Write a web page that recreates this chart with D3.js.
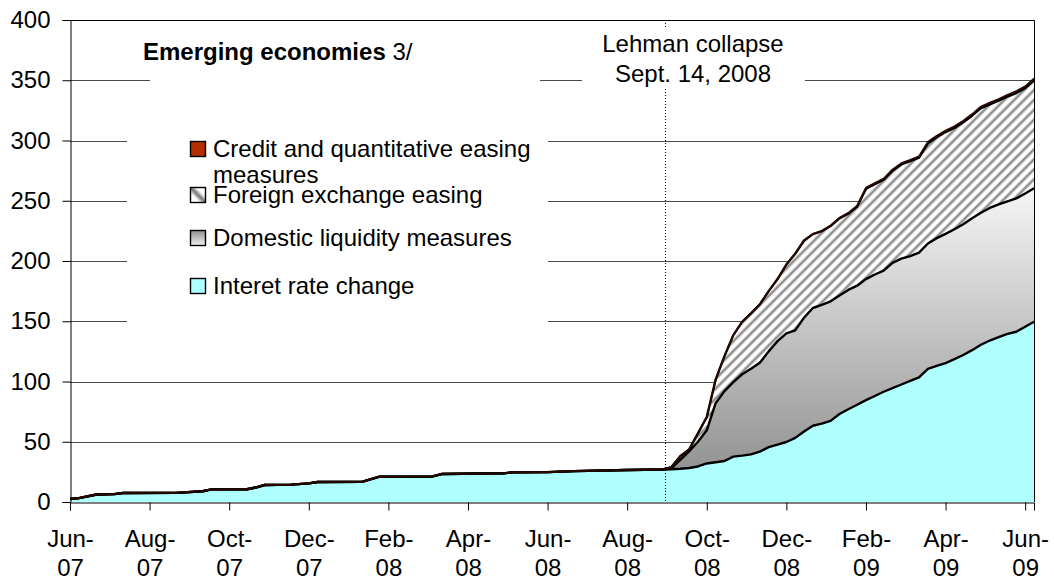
<!DOCTYPE html>
<html>
<head>
<meta charset="utf-8">
<script src="https://cdn.jsdelivr.net/npm/d3@7"></script>
<style>
  body { margin: 0; background: #fff; }
  svg { display: block; font-family: Arial, "Liberation Sans", sans-serif; }
</style>
</head>
<body>
<svg id="chart" width="1054" height="579"></svg>
<script>
// Weekly observations (Fridays); sparse before the crisis where the series is flat.
const dates = [
  "2007-06-01","2007-06-08","2007-06-22","2007-07-06","2007-07-13","2007-08-24","2007-09-14","2007-09-21",
  "2007-10-19","2007-10-26","2007-11-02","2007-11-23","2007-12-07","2007-12-14","2008-01-18","2008-02-01",
  "2008-03-14","2008-03-21","2008-05-09","2008-05-16","2008-06-13","2008-07-04","2008-08-15",
  "2008-09-12","2008-09-19","2008-09-26","2008-10-03","2008-10-10","2008-10-17","2008-10-24","2008-10-31",
  "2008-11-07","2008-11-14","2008-11-21","2008-11-28","2008-12-05","2008-12-12","2008-12-19","2008-12-26",
  "2009-01-02","2009-01-09","2009-01-16","2009-01-23","2009-01-30","2009-02-06","2009-02-13","2009-02-20",
  "2009-02-27","2009-03-06","2009-03-13","2009-03-20","2009-03-27","2009-04-03","2009-04-10","2009-04-17",
  "2009-04-24","2009-05-01","2009-05-08","2009-05-15","2009-05-22","2009-05-29","2009-06-05","2009-06-12",
  "2009-06-19","2009-06-26","2009-07-03"
];

const interestRate = [
  2.5, 3.2, 6.2, 6.5, 7.5, 7.6, 8.9, 10.5, 10.6, 12, 14.1, 14.4, 15.5, 16.6, 16.7, 21,
  21.2, 23.2, 23.8, 24.6, 24.8, 25.6, 26.5,
  27.0, 27.2, 27.6, 28.2, 29.5, 32, 33, 34, 37.7, 38.5, 39.5, 41.8, 45.5, 47.6, 49.8, 53.2,
  58.5, 63.3, 65, 67.3, 73, 77, 80.7, 84.5, 88, 91.5, 94.5, 97.5, 100.5, 103.5, 110.5, 113,
  115.3, 118.5, 122, 126, 130.5, 134, 136.8, 139.5, 141.3, 145.5, 149.6
];

const domesticLiquidity = [
  0, 0, 0, 0, 0, 0, 0, 0, 0, 0, 0, 0, 0, 0, 0, 0,
  0, 0, 0, 0, 0, 0, 0,
  0, 0.8, 7.4, 13.8, 20.5, 27.5, 49, 58, 61.8, 67.5, 71, 73.7, 79.5, 85.9, 90.2, 89.3,
  94.5, 97.7, 98.5, 99.2, 98.3, 99, 98.8, 100.5, 100.8, 100.5, 104, 104.5, 103.5, 103.5, 104, 106,
  107.2, 107.8, 108.5, 109.5, 109.5, 110, 110.2, 110, 110.7, 110.5, 110.7
];

const foreignExchange = [
  0, 0, 0, 0, 0, 0, 0, 0, 0, 0, 0, 0, 0, 0, 0, 0,
  0, 0, 0, 0, 0, 0, 0,
  0, 1, 3, 1.5, 7, 11, 19.5, 29, 39, 43.5, 46, 48.5, 50, 51.5, 57, 63.5,
  64, 61.3, 61.3, 62.5, 64.1, 63.2, 65.6, 75, 75, 75.4, 76.4, 78.1, 78.8, 78.8, 83.2, 83.7,
  84.5, 84.1, 84.6, 85.1, 86.8, 86, 86, 87, 87.4, 87.4, 89.7
];

const creditEasing = [
  0, 0, 0, 0, 0, 0, 0, 0, 0, 0, 0, 0, 0, 0, 0, 0,
  0, 0, 0, 0, 0, 0, 0,
  0, 0, 0, 0, 0, 0, 0, 0, 0, 0, 0, 0, 0, 0, 0, 0,
  0, 0, 0, 0.5, 0.6, 0.8, 0.9, 1, 1, 1.1, 1.1, 1.2, 1.2, 1.2, 1.3, 1.3,
  1.3, 1.4, 1.4, 1.4, 1.5, 1.5, 1.5, 1.5, 1.6, 1.6, 1.6
];

const seriesKeys = ["interest", "domestic", "fx", "credit"];
const legendLabels = [
  "Credit and quantitative easing measures",
  "Foreign exchange easing",
  "Domestic liquidity measures",
  "Interet rate change"
];
const yTickValues = [0, 50, 100, 150, 200, 250, 300, 350, 400];
const xTickDates = [
  "2007-06-01","2007-08-03","2007-10-05","2007-12-07","2008-02-08","2008-04-11","2008-06-13",
  "2008-08-15","2008-10-17","2008-12-19","2009-02-20","2009-04-24","2009-06-26"
];
const lehmanDate = "2008-09-14";
const titleText = "Emerging economies";
const titleNote = " 3/";
const lehmanLines = ["Lehman collapse", "Sept. 14, 2008"];

// ---------------------------------------------------------------------------
const parse = d3.timeParse("%Y-%m-%d");
const rows = dates.map((d, i) => ({
  date: parse(d),
  interest: interestRate[i],
  domestic: domesticLiquidity[i],
  fx: foreignExchange[i],
  credit: creditEasing[i]
}));

const svg = d3.select("#chart");
const plot = { left: 70, right: 1034, top: 20, bottom: 502 };

const x = d3.scaleTime()
  .domain([parse(dates[0]), parse(dates[dates.length - 1])])
  .range([plot.left, plot.right]);
const y = d3.scaleLinear().domain([0, 400]).range([plot.bottom, plot.top]);

const FONT = 24;
const defs = svg.append("defs");

// domestic liquidity: vertical grey gradient, dark at the bottom
const gDom = defs.append("linearGradient").attr("id", "domGrad")
  .attr("gradientUnits", "userSpaceOnUse")
  .attr("x1", 0).attr("x2", 0).attr("y1", 470).attr("y2", 190);
gDom.append("stop").attr("offset", 0).attr("stop-color", "#939393");
gDom.append("stop").attr("offset", 1).attr("stop-color", "#f5f5f5");

// foreign exchange easing: soft diagonal stripes
const gStripe = defs.append("linearGradient").attr("id", "stripeGrad")
  .attr("x1", 0).attr("x2", 1).attr("y1", 0).attr("y2", 0);
[[0, "#ffffff"], [0.25, "#ffffff"], [0.55, "#707070"], [0.85, "#ffffff"], [1, "#ffffff"]]
  .forEach(([o, c]) => gStripe.append("stop").attr("offset", o).attr("stop-color", c));
const pat = defs.append("pattern").attr("id", "fxPattern")
  .attr("patternUnits", "userSpaceOnUse")
  .attr("width", 7).attr("height", 7)
  .attr("patternTransform", "rotate(45)");
pat.append("rect").attr("width", 7).attr("height", 7).attr("fill", "url(#stripeGrad)");

// legend swatch fills
const gDomKey = defs.append("linearGradient").attr("id", "domKey")
  .attr("x1", 0).attr("x2", 0).attr("y1", 0).attr("y2", 1);
gDomKey.append("stop").attr("offset", 0).attr("stop-color", "#8e8e8e");
gDomKey.append("stop").attr("offset", 1).attr("stop-color", "#f2f2f2");
const gFxKey = defs.append("linearGradient").attr("id", "fxKey")
  .attr("x1", 0).attr("y1", 1).attr("x2", 1).attr("y2", 0);
[[0, "#ffffff"], [0.3, "#ffffff"], [0.5, "#777777"], [0.7, "#ffffff"], [1, "#ffffff"]]
  .forEach(([o, c]) => gFxKey.append("stop").attr("offset", o).attr("stop-color", c));

const fills = {
  interest: "#afffff",
  domestic: "url(#domGrad)",
  fx: "url(#fxPattern)",
  credit: "#b52e00"
};
const keyFills = {
  interest: "#afffff",
  domestic: "url(#domKey)",
  fx: "url(#fxKey)",
  credit: "#b52e00"
};

// gridlines
svg.append("g").selectAll("line")
  .data(yTickValues.filter(v => v > 0 && v < 400))
  .join("line")
  .attr("x1", plot.left).attr("x2", plot.right)
  .attr("y1", d => Math.round(y(d)) + 0.5).attr("y2", d => Math.round(y(d)) + 0.5)
  .attr("stroke", "#4a4a4a").attr("stroke-width", 1);

// stacked areas
const stack = d3.stack().keys(seriesKeys);
const layers = stack(rows);
const area = d3.area()
  .x(d => x(d.data.date))
  .y0(d => y(d[0]))
  .y1(d => y(d[1]));
const topLine = d3.line()
  .x(d => x(d.data.date))
  .y(d => y(d[1]));

svg.append("g").selectAll("path")
  .data(layers)
  .join("path")
  .attr("d", area)
  .attr("fill", d => fills[d.key]);

svg.append("g").selectAll("path")
  .data(layers)
  .join("path")
  .attr("d", topLine)
  .attr("fill", "none")
  .attr("stroke", d => d.key === "credit" ? "#2b0800" : "#000")
  .attr("stroke-width", d => d.key === "credit" ? 1.6 : 2.4)
  .attr("stroke-linejoin", "round");

// Lehman marker
const lx = Math.round(x(parse(lehmanDate))) + 0.5;
svg.append("line")
  .attr("x1", lx).attr("x2", lx)
  .attr("y1", plot.top).attr("y2", plot.bottom)
  .attr("stroke", "#000").attr("stroke-width", 1)
  .attr("stroke-dasharray", "1,2");

// text boxes (white backgrounds hide the grid)
svg.append("rect").attr("x", 150).attr("y", 30).attr("width", 390).attr("height", 62).attr("fill", "#fff");
svg.append("rect").attr("x", 582).attr("y", 27).attr("width", 223).attr("height", 62).attr("fill", "#fff");
svg.append("rect").attr("x", 127).attr("y", 118).attr("width", 421).attr("height", 214).attr("fill", "#fff");

// title
const title = svg.append("text").attr("x", 143).attr("y", 60).attr("font-size", FONT).attr("fill", "#000");
title.append("tspan").attr("font-weight", "bold").text(titleText);
title.append("tspan").text(titleNote);

// Lehman annotation
svg.append("g").selectAll("text")
  .data(lehmanLines)
  .join("text")
  .attr("x", 693).attr("y", (d, i) => 52 + i * 30)
  .attr("text-anchor", "middle")
  .attr("font-size", FONT).attr("fill", "#000")
  .text(d => d);

// legend
const legendRows = [
  { key: "credit", lines: ["Credit and quantitative easing", "measures"], y: 157 },
  { key: "fx", lines: [legendLabels[1]], y: 203 },
  { key: "domestic", lines: [legendLabels[2]], y: 246 },
  { key: "interest", lines: [legendLabels[3]], y: 294 }
];
const lg = svg.append("g");
legendRows.forEach(r => {
  lg.append("rect")
    .attr("x", 190.5).attr("y", r.y - 15.5).attr("width", 15).attr("height", 15)
    .attr("fill", keyFills[r.key]).attr("stroke", "#000").attr("stroke-width", 1.4);
  r.lines.forEach((t, i) => {
    lg.append("text")
      .attr("x", 213).attr("y", r.y + i * 26)
      .attr("font-size", FONT).attr("fill", "#000")
      .text(t);
  });
});

// axes and frame
const yAxis = d3.axisLeft(y).tickValues(yTickValues).tickSize(8).tickPadding(12).tickFormat(d3.format("d"));
const gy = svg.append("g").attr("transform", `translate(${plot.left + 0.5},0)`).call(yAxis);
gy.selectAll("text").attr("font-size", FONT).attr("font-family", "Arial, 'Liberation Sans', sans-serif").attr("fill", "#000");
gy.selectAll("line").attr("stroke", "#000");
gy.select(".domain").attr("stroke", "#000");

const fmtMonth = d3.timeFormat("%b-");
const fmtYear = d3.timeFormat("%y");
const xAxis = d3.axisBottom(x).tickValues(xTickDates.map(parse)).tickSize(8).tickFormat("");
const gx = svg.append("g").attr("transform", `translate(0,${plot.bottom + 0.5})`).call(xAxis);
gx.selectAll("line").attr("stroke", "#000");
gx.select(".domain").attr("stroke", "#000");
gx.selectAll(".tick").append("text")
  .attr("text-anchor", "middle")
  .attr("font-size", FONT).attr("font-family", "Arial, 'Liberation Sans', sans-serif").attr("fill", "#000")
  .each(function(d) {
    const t = d3.select(this);
    t.append("tspan").attr("x", 0).attr("y", 44).text(fmtMonth(d));
    t.append("tspan").attr("x", 0).attr("y", 73).text(fmtYear(d));
  });

// plot frame: top and right edges
svg.append("path")
  .attr("d", `M${plot.left},${plot.top + 0.5}H${plot.right + 0.5}V${plot.bottom}`)
  .attr("fill", "none").attr("stroke", "#000").attr("stroke-width", 1);
</script>
</body>
</html>
